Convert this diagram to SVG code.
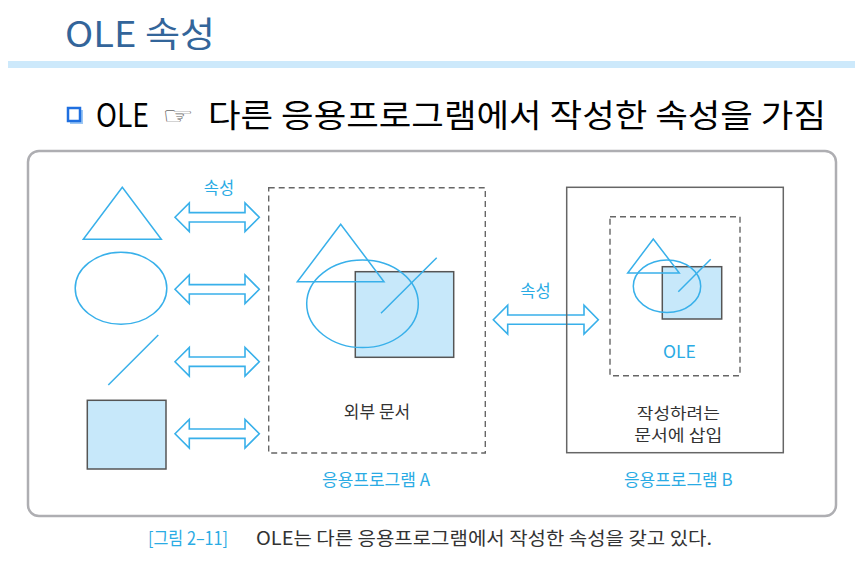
<svg xmlns="http://www.w3.org/2000/svg" width="865" height="566" viewBox="0 0 865 566">
<style>
.kr{font-family:"Noto Sans CJK KR","Noto Sans",sans-serif}
.blue{fill:#2aabe4}
.dark{fill:#333}
.shp{fill:none;stroke:#38b0ea;stroke-width:1.5}
.sq{fill:#c7e8fa;stroke:#555;stroke-width:1.5}
.dash{fill:none;stroke:#666;stroke-width:1.4;stroke-dasharray:6 4}
.arr{fill:none;stroke:#38b0ea;stroke-width:1.6;stroke-linejoin:miter}
</style>
<defs>
<path id="dblArrow" d="M0,0 L14.3,-14.3 L14.3,-4.7 L70,-4.7 L70,-14.3 L84.3,0 L70,14.3 L70,4.7 L14.3,4.7 L14.3,14.3 Z"/>
</defs>
<rect width="865" height="566" fill="#fff"/>
<g id="header">
<text class="kr" x="65" y="47" font-size="35" fill="#33659a" textLength="150" lengthAdjust="spacingAndGlyphs">OLE 속성</text>
<rect x="8" y="61" width="847" height="7" fill="#cde9fb"/>
</g>
<g id="bullet">
<rect x="70" y="110" width="13" height="14" fill="#9cc7f5"/>
<rect x="68" y="108" width="12" height="13" fill="#fff" stroke="#1f6fe0" stroke-width="2.5"/>
<text class="kr" x="96" y="127" font-size="32" fill="#000" textLength="53" lengthAdjust="spacingAndGlyphs">OLE</text>
<text x="162" y="124" font-family="DejaVu Sans,sans-serif" font-size="24" fill="#666" textLength="32" lengthAdjust="spacingAndGlyphs">☞</text>
<text class="kr" x="208" y="127" font-size="32" fill="#000" textLength="618" lengthAdjust="spacingAndGlyphs">다른 응용프로그램에서 작성한 속성을 가짐</text>
</g>
<g id="frame">
<rect x="28" y="151" width="808" height="365" rx="11" fill="#fff" stroke="#aeaeb2" stroke-width="2.5"/>
</g>
<g id="source-shapes">
<polygon class="shp" points="122.3,187.3 83.3,239.3 161.3,239.3"/>
<ellipse class="shp" cx="121" cy="288.3" rx="45.8" ry="36"/>
<line class="shp" x1="158.3" y1="335" x2="108.3" y2="385"/>
<rect class="sq" x="87.3" y="400.3" width="78.7" height="68.7"/>
</g>
<g id="connectors">
<use href="#dblArrow" class="arr" transform="translate(175,217.3)"/>
<use href="#dblArrow" class="arr" transform="translate(175,289.3)"/>
<use href="#dblArrow" class="arr" transform="translate(175,361.7)"/>
<use href="#dblArrow" class="arr" transform="translate(175,433.7)"/>
<text class="kr blue" x="219" y="194" font-size="16.5" text-anchor="middle">속성</text>
<path class="arr" d="M493.3,319.7 L507.7,305.3 L507.7,315 L584,315 L584,305.3 L598.3,319.7 L584,334 L584,324.3 L507.7,324.3 L507.7,334 Z"/>
<text class="kr blue" x="535.5" y="297" font-size="16.5" text-anchor="middle">속성</text>
</g>
<g id="app-a">
<rect class="dash" x="268.7" y="187.7" width="216.6" height="265.3"/>
<rect class="sq" x="355.3" y="271.7" width="98.4" height="85.6"/>
<polygon class="shp" points="340.7,224.3 297.3,281.7 384,281.7"/>
<ellipse class="shp" cx="362.5" cy="303.8" rx="55.8" ry="43.8"/>
<line class="shp" x1="436.7" y1="257.7" x2="381" y2="313.3"/>
<text class="kr dark" x="377" y="418" font-size="17" text-anchor="middle">외부 문서</text>
<text class="kr blue" x="376" y="486" font-size="17" text-anchor="middle">응용프로그램 A</text>
</g>
<g id="app-b">
<rect x="566.7" y="187.3" width="216.6" height="265.4" fill="none" stroke="#666" stroke-width="1.5"/>
<rect class="dash" x="610" y="216.7" width="130" height="159"/>
<rect class="sq" x="662.3" y="266.7" width="59.4" height="52.3"/>
<polygon class="shp" points="653.3,239 627.7,273 679.3,273"/>
<ellipse class="shp" cx="667" cy="286.3" rx="33.7" ry="26.3"/>
<line class="shp" x1="710.7" y1="259.3" x2="678.3" y2="291.7"/>
<text class="kr blue" x="679.3" y="358" font-size="17.5" text-anchor="middle">OLE</text>
<text class="kr dark" x="678.3" y="418.5" font-size="15.4" text-anchor="middle" textLength="83" lengthAdjust="spacingAndGlyphs">작성하려는</text>
<text class="kr dark" x="678.3" y="441" font-size="15.4" text-anchor="middle" textLength="88" lengthAdjust="spacingAndGlyphs">문서에 삽입</text>
<text class="kr blue" x="678.3" y="486" font-size="17" text-anchor="middle">응용프로그램 B</text>
</g>
<g id="caption">
<text class="kr blue" x="148" y="545" font-size="18" textLength="80" lengthAdjust="spacingAndGlyphs">[그림 2–11]</text>
<text class="kr dark" x="256" y="545" font-size="18" textLength="456" lengthAdjust="spacingAndGlyphs">OLE는 다른 응용프로그램에서 작성한 속성을 갖고 있다.</text>
</g>
</svg>
